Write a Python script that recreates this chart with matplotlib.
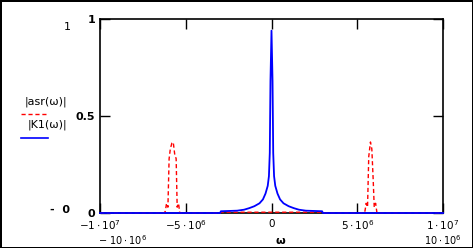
import matplotlib
matplotlib.use("Agg")
import matplotlib.pyplot as plt
import numpy as np

# |K1(w)| -- right half of a symmetric curve, w in units of 1e6
k1_w = [0.0, 0.06, 0.1, 0.15, 0.22, 0.35, 0.5, 0.7, 1.0, 1.3, 1.6, 2.0, 2.95, 3.0, 10.0]
k1_val = [0.94, 0.68, 0.31, 0.19, 0.14, 0.10, 0.07, 0.05, 0.035, 0.025, 0.017, 0.012, 0.009, 0.0, 0.0]

# |asr(w)| -- side peaks near +/- 5.75e6
asr_w = [-10.0, -6.25, -6.19, -6.12, -6.04, -5.97, -5.90, -5.81, -5.73, -5.64, -5.56, -5.50,
         -5.42, -5.35, -3.0, -2.95, 2.95, 3.0, 5.35, 5.45, 5.52, 5.60, 5.67, 5.77, 5.85, 5.93,
         5.99, 6.07, 6.15, 6.22, 10.0]
asr_val = [0.0, 0.0, 0.01, 0.05, 0.03, 0.28, 0.33, 0.36, 0.365, 0.30, 0.28, 0.03,
           0.05, 0.0, 0.0, 0.004, 0.004, 0.0, 0.0, 0.01, 0.05, 0.03, 0.29, 0.366, 0.33,
           0.17, 0.03, 0.05, 0.0, 0.0, 0.0]

x_ticks = [-1e7, -5e6, 0, 5e6, 1e7]
x_tick_labels = [r"$-1\cdot10^{7}$", r"$-5\cdot10^{6}$", "0", r"$5\cdot10^{6}$", r"$1\cdot10^{7}$"]
y_ticks = [0, 0.5, 1]
y_tick_labels = ["0", "0.5", "1"]

kw = np.array(k1_w) * 1e6
kv = np.array(k1_val)
k1_x = np.concatenate([-kw[::-1], kw[1:]])
k1_y = np.concatenate([kv[::-1], kv[1:]])
asr_x = np.array(asr_w) * 1e6

fig = plt.figure(figsize=(4.73, 2.48), dpi=100)
fig.patch.set_edgecolor("black")
fig.patch.set_linewidth(2)
ax = fig.add_axes([100 / 473, 1 - 213 / 248, 343 / 473, 194 / 248])

ax.plot(asr_x, asr_val, color="red", linestyle=(0, (3, 2)), linewidth=1.0, zorder=3, clip_on=False)
ax.plot(k1_x, k1_y, color="blue", linewidth=1.3, zorder=4, clip_on=False)

ax.set_xlim(-1e7, 1e7)
ax.set_ylim(0, 1)
ax.set_xticks(x_ticks)
ax.set_xticklabels(x_tick_labels, fontsize=7.5)
ax.set_yticks(y_ticks)
ax.set_yticklabels(y_tick_labels, fontsize=8, fontweight="bold")
ax.tick_params(direction="in", length=7, top=True, right=True, width=1)
ax.tick_params(axis="x", pad=4)
for s in ax.spines.values():
    s.set_linewidth(1.2)

# extra Mathcad style labels
fig.text(67 / 473, 1 - 27 / 248, "1", fontsize=8, ha="center", va="center")
fig.text(60 / 473, 1 - 210 / 248, "-  0", fontsize=8, ha="center", va="center", fontweight="bold")
fig.text(98 / 473, 1 - 247 / 248, r"$-\ 10\cdot10^{6}$", fontsize=7, ha="left", va="bottom")
fig.text(462 / 473, 1 - 247 / 248, r"$10\cdot10^{6}$", fontsize=7, ha="right", va="bottom")
fig.text(280 / 473, 1 - 241 / 248, "ω", fontsize=8, ha="center", va="center", fontweight="bold")

# legend
fig.text(46 / 473, 1 - 102 / 248, "|asr(ω)|", fontsize=8, ha="center", va="center")
fig.add_artist(plt.Line2D([21 / 473, 47 / 473], [1 - 114 / 248, 1 - 114 / 248],
                          color="red", linestyle=(0, (3, 2)), linewidth=1.0))
fig.text(47 / 473, 1 - 125 / 248, "|K1(ω)|", fontsize=8, ha="center", va="center")
fig.add_artist(plt.Line2D([21 / 473, 48 / 473], [1 - 138 / 248, 1 - 138 / 248],
                          color="blue", linewidth=1.2))

fig.savefig("out.png", dpi=100)
